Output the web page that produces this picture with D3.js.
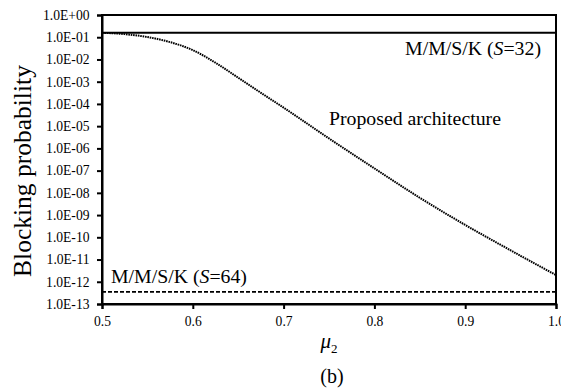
<!DOCTYPE html>
<html><head><meta charset="utf-8">
<script src="https://cdn.jsdelivr.net/npm/d3@7"></script>
<style>body{margin:0;background:#fff}svg{display:block}svg text{font-family:"Liberation Serif","DejaVu Serif",serif !important;fill:#000}</style>
</head><body>
<svg id="c" width="561" height="389"></svg>
<script>
// Data
const mu = [0.500,0.525,0.550,0.575,0.600,0.625,0.650,0.675,0.700,0.750,0.800,0.850,0.900,0.950,1.000];
const proposed = [0.158,0.138,0.102,0.0603,0.0263,7.1e-3,1.51e-3,3.16e-4,6.8e-5,2.8e-6,1.26e-7,6.0e-9,3.6e-10,2.6e-11,2.0e-12];
const mmskS32 = 0.16;
const mmskS64 = 3.5e-13;
const xTicks = [0.5,0.6,0.7,0.8,0.9,1.0];
const yTicks = [1e0,1e-1,1e-2,1e-3,1e-4,1e-5,1e-6,1e-7,1e-8,1e-9,1e-10,1e-11,1e-12,1e-13];

const svg = d3.select('#c');
const L=102, R=556, T=15, B=304;
const x = d3.scaleLinear().domain([0.5,1.0]).range([L,R]);
const y = d3.scaleLog().domain([1e-13,1]).range([B,T]);

svg.append('rect').attr('x',L).attr('y',T).attr('width',R-L).attr('height',B-T)
  .attr('fill','none').attr('stroke','#000').attr('stroke-width',2);

const fmt = v => { const e = Math.round(Math.log10(v)); return '1.0E' + (e>=0?'+':'-') + String(Math.abs(e)).padStart(2,'0'); };

const ya = svg.append('g').attr('transform',`translate(${L},0)`)
  .call(d3.axisLeft(y).tickValues(yTicks).tickFormat(fmt).tickSize(5).tickPadding(7.5));
ya.attr('font-family',null);
ya.select('.domain').attr('stroke-width',2);
ya.selectAll('.tick line').attr('stroke-width',2);
ya.selectAll('text').attr('font-size','13.6px');

const xa = svg.append('g').attr('transform',`translate(0,${B})`)
  .call(d3.axisBottom(x).tickValues(xTicks).tickFormat(d3.format('.1f')).tickSize(5).tickPadding(7));
xa.attr('font-family',null);
xa.select('.domain').attr('stroke-width',2);
xa.selectAll('.tick line').attr('stroke-width',2);
xa.selectAll('text').attr('font-size','13.6px');

svg.append('line').attr('x1',L).attr('x2',R).attr('y1',y(mmskS32)).attr('y2',y(mmskS32))
  .attr('stroke','#000').attr('stroke-width',2);
svg.append('line').attr('x1',L).attr('x2',R).attr('y1',y(mmskS64)).attr('y2',y(mmskS64))
  .attr('stroke','#000').attr('stroke-width',1.6).attr('stroke-dasharray','4,2');
const line = d3.line().x((d,i)=>x(mu[i])).y(d=>y(d)).curve(d3.curveMonotoneX);
svg.append('path').datum(proposed).attr('d',line).attr('fill','none')
  .attr('stroke','#000').attr('stroke-width',2).attr('stroke-dasharray','1.6,0.8');

svg.append('text').attr('x',541).attr('y',55).attr('text-anchor','end').attr('font-size','19.8px')
  .html('M/M/S/K (<tspan font-style="italic">S</tspan>=32)');
svg.append('text').attr('x',329).attr('y',125).attr('font-size','19.8px').text('Proposed architecture');
svg.append('text').attr('x',111).attr('y',283).attr('font-size','19.8px')
  .html('M/M/S/K (<tspan font-style="italic">S</tspan>=64)');

svg.append('text').attr('transform','translate(31,171) rotate(-90)').attr('text-anchor','middle')
  .attr('font-size','25.5px').text('Blocking probability');
svg.append('text').attr('x',329).attr('y',348).attr('text-anchor','middle').attr('font-size','21px')
  .html('<tspan font-style="italic">μ</tspan><tspan font-size="13px" dy="5">2</tspan>');
svg.append('text').attr('x',332).attr('y',383).attr('text-anchor','middle').attr('font-size','20px').text('(b)');
</script>
</body></html>
